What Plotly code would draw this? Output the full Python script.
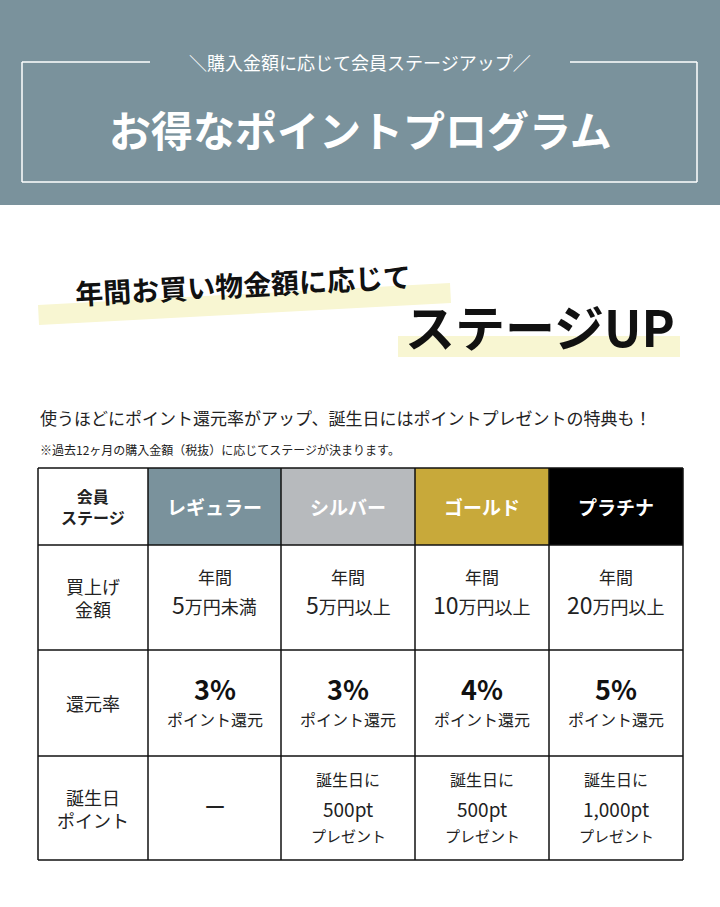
import plotly.graph_objects as go

tiers = ["レギュラー", "シルバー", "ゴールド", "プラチナ"]
tier_colors = ["#7a929c", "#b7babd", "#c8a93a", "#000000"]
amount_nums = ["5", "5", "10", "20"]
amount_units = ["万円未満", "万円以上", "万円以上", "万円以上"]
rates = ["3%", "3%", "4%", "5%"]
birthday_pts = [None, "500pt", "500pt", "1,000pt"]
row_labels = ["会員<br>ステージ", "買上げ<br>金額", "還元率", "誕生日<br>ポイント"]

F = "Noto Sans CJK JP"
col_x = [38, 148, 281, 415, 549, 683]
row_y = [468, 545, 650, 756, 860]

fig = go.Figure()
shapes = []
ann = []
def A(x, y, t, s, c="#222", **k):
    ann.append(dict(x=x, y=y, text=t, showarrow=False, font=dict(family=F, size=s, color=c), **k))

shapes.append(dict(type="rect", x0=0, x1=720, y0=0, y1=205, fillcolor="#7a929c", line_width=0, layer="below"))
lw = dict(color="white", width=1.5)
shapes += [
    dict(type="line", x0=22, x1=150, y0=62, y1=62, line=lw),
    dict(type="line", x0=570, x1=697, y0=62, y1=62, line=lw),
    dict(type="line", x0=22, x1=22, y0=62, y1=182, line=lw),
    dict(type="line", x0=697, x1=697, y0=62, y1=182, line=lw),
    dict(type="line", x0=22, x1=697, y0=182, y1=182, line=lw),
]
A(360, 62, "＼購入金額に応じて会員ステージアップ／", 18, "white")
A(360, 128, "<b>お得なポイントプログラム</b>", 42, "white")

shapes.append(dict(type="path", path="M 38 305 L 450 283 L 451 303 L 39 325 Z", fillcolor="#f8f6d2", line_width=0, layer="below"))
shapes.append(dict(type="rect", x0=398, x1=680, y0=336, y1=357, fillcolor="#f8f6d2", line_width=0, layer="below"))
A(243, 284, "<b>年間お買い物金額に応じて</b>", 28, "#111", textangle=-3)
A(540, 325, "<b>ステージUP</b>", 50, "#111")

A(38, 417, "使うほどにポイント還元率がアップ、誕生日にはポイントプレゼントの特典も！", 17, "#222", xanchor="left")
A(38, 449, "※過去12ヶ月の購入金額（税抜）に応じてステージが決まります。", 12, "#222", xanchor="left")

for i, (t, c) in enumerate(zip(tiers, tier_colors)):
    shapes.append(dict(type="rect", x0=col_x[i+1], x1=col_x[i+2], y0=row_y[0], y1=row_y[1], fillcolor=c, line_width=0, layer="below"))
    A((col_x[i+1]+col_x[i+2])/2, (row_y[0]+row_y[1])/2, f"<b>{t}</b>", 19, "white")
for x in col_x:
    shapes.append(dict(type="line", x0=x, x1=x, y0=row_y[0], y1=row_y[-1], line=dict(color="#111", width=1.5)))
for y in row_y:
    shapes.append(dict(type="line", x0=col_x[0], x1=col_x[-1], y0=y, y1=y, line=dict(color="#111", width=1.5)))
for r, lab in enumerate(row_labels):
    s = 16 if r == 0 else 18
    t = f"<b>{lab}</b>" if r == 0 else lab
    A((col_x[0]+col_x[1])/2, (row_y[r]+row_y[r+1])/2, t, s)
for i in range(4):
    cx = (col_x[i+1]+col_x[i+2])/2
    A(cx, 576, "年間", 17)
    A(cx, 604, f"<span style='font-size:23px'>{amount_nums[i]}</span>{amount_units[i]}", 18)
    A(cx, 688, f"<b>{rates[i]}</b>", 27, "#111")
    A(cx, 719, "ポイント還元", 16)
    if birthday_pts[i] is None:
        A(cx, 805, "ー", 22)
    else:
        A(cx, 779, "誕生日に", 16)
        A(cx, 808, birthday_pts[i], 19)
        A(cx, 835, "プレゼント", 15)

fig.update_layout(
    width=720, height=907, margin=dict(l=0, r=0, t=0, b=0),
    plot_bgcolor="white", paper_bgcolor="white",
    xaxis=dict(range=[0, 720], visible=False, fixedrange=True),
    yaxis=dict(range=[907, 0], visible=False, fixedrange=True),
    shapes=shapes, annotations=ann, showlegend=False,
)
fig.write_html("out.html", config={"displayModeBar": False},
               post_script="document.body.style.margin='0';document.body.style.overflow='hidden';")
